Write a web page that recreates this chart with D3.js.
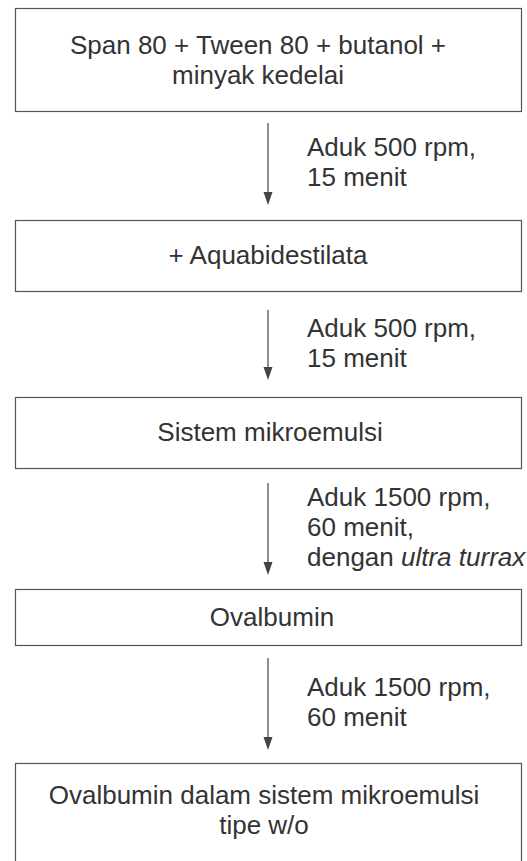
<!DOCTYPE html>
<html>
<head>
<meta charset="utf-8">
<script src="https://cdn.jsdelivr.net/npm/d3@7"></script>
<style>
  html, body { margin: 0; padding: 0; background: #ffffff; }
  svg { display: block; }
</style>
</head>
<body>
<svg id="chart" width="527" height="861"></svg>
<script>
// ---- data ----
const boxLabels = [
  ["Span 80 + Tween 80 + butanol +", "minyak kedelai"],
  ["+ Aquabidestilata"],
  ["Sistem mikroemulsi"],
  ["Ovalbumin"],
  ["Ovalbumin dalam sistem mikroemulsi", "tipe w/o"]
];
const stepLabels = [
  [["Aduk 500 rpm,"], ["15 menit"]],
  [["Aduk 500 rpm,"], ["15 menit"]],
  [["Aduk 1500 rpm,"], ["60 menit,"], ["dengan ", "ultra turrax"]],
  [["Aduk 1500 rpm,"], ["60 menit"]]
];
const italicParts = ["ultra turrax"];

// ---- layout ----
const boxTop = [8, 220, 397, 589, 763];
const boxBottom = [111, 291, 468, 645, 866];
const boxTextMid = [60, 255, 432, 617, 810];
const boxTextShift = [-10, 0, 2, 4, -4];
const arrowTop = [123, 310, 483, 658];
const arrowTip = [205, 380, 575, 750];
const boxX0 = 15, boxX1 = 521;
const arrowX = 268, labelX = 307;
const fontSize = 26, lineH = 30;
const headW = 9, headH = 13;
const textColor = "#333333", lineColor = "#555555";

const svg = d3.select("#chart");
const cx = (boxX0 + boxX1) / 2;
const font = "'Liberation Sans', Arial, sans-serif";

const boxes = svg.selectAll("g.box").data(boxLabels).join("g").attr("class", "box");
boxes.append("rect")
  .attr("x", boxX0 + 0.5)
  .attr("y", (d, i) => boxTop[i] + 0.5)
  .attr("width", boxX1 - boxX0)
  .attr("height", (d, i) => boxBottom[i] - boxTop[i])
  .attr("fill", "none")
  .attr("stroke", lineColor)
  .attr("stroke-width", 1.2);

boxes.each(function(lines, i) {
  const first = boxTextMid[i] - (lines.length - 1) * lineH / 2;
  d3.select(this).selectAll("text").data(lines).join("text")
    .attr("x", cx + boxTextShift[i])
    .attr("y", (d, j) => first + j * lineH)
    .attr("dy", "0.35em")
    .attr("text-anchor", "middle")
    .attr("font-family", font)
    .attr("font-size", fontSize)
    .attr("fill", textColor)
    .text(d => d);
});

const steps = svg.selectAll("g.step").data(stepLabels).join("g").attr("class", "step");
steps.append("line")
  .attr("x1", arrowX).attr("x2", arrowX)
  .attr("y1", (d, i) => arrowTop[i])
  .attr("y2", (d, i) => arrowTip[i] - headH + 1)
  .attr("stroke", "#444")
  .attr("stroke-width", 1.2);
steps.append("path")
  .attr("d", (d, i) => {
    const p = d3.path();
    p.moveTo(arrowX - headW / 2, arrowTip[i] - headH);
    p.lineTo(arrowX + headW / 2, arrowTip[i] - headH);
    p.lineTo(arrowX, arrowTip[i]);
    p.closePath();
    return p.toString();
  })
  .attr("fill", "#444");

steps.each(function(lines, i) {
  const mid = (arrowTop[i] + arrowTip[i]) / 2 - 2;
  const first = mid - (lines.length - 1) * lineH / 2;
  const t = d3.select(this).selectAll("text").data(lines).join("text")
    .attr("x", labelX)
    .attr("y", (d, j) => first + j * lineH)
    .attr("dy", "0.35em")
    .attr("font-family", font)
    .attr("font-size", fontSize)
    .attr("fill", textColor);
  t.selectAll("tspan").data(d => d).join("tspan")
    .attr("font-style", d => italicParts.includes(d) ? "italic" : "normal")
    .text(d => d);
});
</script>
</body>
</html>
